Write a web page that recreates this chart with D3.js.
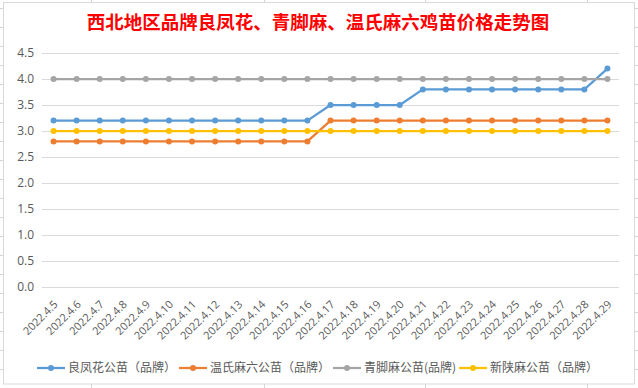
<!DOCTYPE html>
<html>
<head>
<meta charset="utf-8">
<title>西北地区品牌鸡苗价格走势图</title>
<script src="https://cdn.jsdelivr.net/npm/d3@7"></script>
<style>
  body { margin: 0; background: #fff; }
  svg { display: block; }
  text { font-family: "Noto Sans CJK SC", "Noto Sans", sans-serif; }
</style>
</head>
<body>
<svg id="chart" width="638" height="388"></svg>
<script>
// dates on the x axis
var dates = ["2022.4.5", "2022.4.6", "2022.4.7", "2022.4.8", "2022.4.9", "2022.4.10", "2022.4.11",
  "2022.4.12", "2022.4.13", "2022.4.14", "2022.4.15", "2022.4.16", "2022.4.17", "2022.4.18",
  "2022.4.19", "2022.4.20", "2022.4.21", "2022.4.22", "2022.4.23", "2022.4.24", "2022.4.25",
  "2022.4.26", "2022.4.27", "2022.4.28", "2022.4.29"];

var liangfenghua = [3.2, 3.2, 3.2, 3.2, 3.2, 3.2, 3.2, 3.2, 3.2, 3.2, 3.2, 3.2,
  3.5, 3.5, 3.5, 3.5, 3.8, 3.8, 3.8, 3.8, 3.8, 3.8, 3.8, 3.8, 4.2];
var wenshi = [2.8, 2.8, 2.8, 2.8, 2.8, 2.8, 2.8, 2.8, 2.8, 2.8, 2.8, 2.8,
  3.2, 3.2, 3.2, 3.2, 3.2, 3.2, 3.2, 3.2, 3.2, 3.2, 3.2, 3.2, 3.2];
var qingjiao = [4.0, 4.0, 4.0, 4.0, 4.0, 4.0, 4.0, 4.0, 4.0, 4.0, 4.0, 4.0,
  4.0, 4.0, 4.0, 4.0, 4.0, 4.0, 4.0, 4.0, 4.0, 4.0, 4.0, 4.0, 4.0];
var xinshan = [3.0, 3.0, 3.0, 3.0, 3.0, 3.0, 3.0, 3.0, 3.0, 3.0, 3.0, 3.0,
  3.0, 3.0, 3.0, 3.0, 3.0, 3.0, 3.0, 3.0, 3.0, 3.0, 3.0, 3.0, 3.0];

var seriesNames = ["良凤花公苗（品牌）", "温氏麻六公苗（品牌）", "青脚麻公苗(品牌)", "新陕麻公苗（品牌）"];
var yTicks = [0, 0.5, 1.0, 1.5, 2.0, 2.5, 3.0, 3.5, 4.0, 4.5];

var series = [
  { name: seriesNames[0], values: liangfenghua, color: "#5B9BD5" },
  { name: seriesNames[1], values: wenshi, color: "#ED7D31" },
  { name: seriesNames[2], values: qingjiao, color: "#A5A5A5" },
  { name: seriesNames[3], values: xinshan, color: "#FFC000" }
];

var svg = d3.select("#chart");

// spreadsheet cells showing around the chart frame
var sheet = svg.append("g").attr("stroke", "#d4d4d4").attr("stroke-width", 1);
d3.range(0, 20).forEach(function (k) {
  var y = 8.5 + 19 * k;
  sheet.append("line").attr("x1", 0).attr("x2", 638).attr("y1", y).attr("y2", y);
});
[91.5, 264.5, 425.5, 587.5].forEach(function (x) {
  sheet.append("line").attr("x1", x).attr("x2", x).attr("y1", 0).attr("y2", 388);
});

// chart frame
svg.append("rect")
  .attr("x", 3.5).attr("y", 2.5).attr("width", 631).attr("height", 381.5)
  .attr("fill", "#fff").attr("stroke", "#d9d9d9");

svg.append("text")
  .attr("x", 318).attr("y", 29)
  .attr("text-anchor", "middle")
  .attr("fill", "#ff0000")
  .style("font-size", "18.5px")
  .style("font-weight", "bold")
  .text("西北地区品牌良凤花、青脚麻、温氏麻六鸡苗价格走势图");

var x = d3.scaleBand().domain(dates).range([42, 619]);
var y = d3.scaleLinear().domain([0, 4.5]).range([287, 53]);

// grid + y labels
var yAxis = svg.append("g")
  .attr("transform", "translate(42,0)")
  .call(d3.axisLeft(y).tickValues(yTicks).tickSize(-577).tickPadding(8)
    .tickFormat(d3.format(".1f")));
yAxis.select(".domain").remove();
yAxis.selectAll(".tick line").attr("stroke", "#d9d9d9");
yAxis.selectAll(".tick text")
  .attr("fill", "#595959")
  .style("font-family", "'Open Sans', sans-serif")
  .style("font-size", "12px");

// x labels, rotated
var xAxis = svg.append("g")
  .attr("transform", "translate(0,287)")
  .call(d3.axisBottom(x).tickSize(0));
xAxis.select(".domain").remove();
xAxis.selectAll(".tick text")
  .attr("fill", "#595959")
  .style("font-family", "'Open Sans', sans-serif")
  .style("font-size", "11px")
  .attr("text-anchor", "end")
  .attr("dy", 0)
  .attr("y", 0)
  .attr("transform", "translate(5,18) rotate(-45)");

var line = d3.line()
  .x(function (d, i) { return x(dates[i]) + x.bandwidth() / 2; })
  .y(function (d) { return y(d); });

var lines = svg.append("g");
series.forEach(function (s) {
  lines.append("path")
    .attr("d", line(s.values))
    .attr("fill", "none")
    .attr("stroke", s.color)
    .attr("stroke-width", 2.25)
    .attr("stroke-linejoin", "round");
  lines.selectAll(null)
    .data(s.values)
    .enter()
    .append("circle")
    .attr("cx", function (d, i) { return x(dates[i]) + x.bandwidth() / 2; })
    .attr("cy", function (d) { return y(d); })
    .attr("r", 3)
    .attr("fill", s.color);
});

// legend
var legendX = [37, 179, 333, 459];
var legend = svg.append("g").attr("transform", "translate(0,368)");
series.forEach(function (s, i) {
  var g = legend.append("g").attr("transform", "translate(" + legendX[i] + ",0)");
  g.append("line").attr("x1", 0).attr("x2", 28).attr("y1", 0).attr("y2", 0)
    .attr("stroke", s.color).attr("stroke-width", 2.25);
  g.append("circle").attr("cx", 14).attr("cy", 0).attr("r", 3).attr("fill", s.color);
  g.append("text").attr("x", 31).attr("y", 0).attr("dy", "0.35em")
    .attr("fill", "#595959").style("font-size", "12px").text(s.name);
});
</script>
</body>
</html>
